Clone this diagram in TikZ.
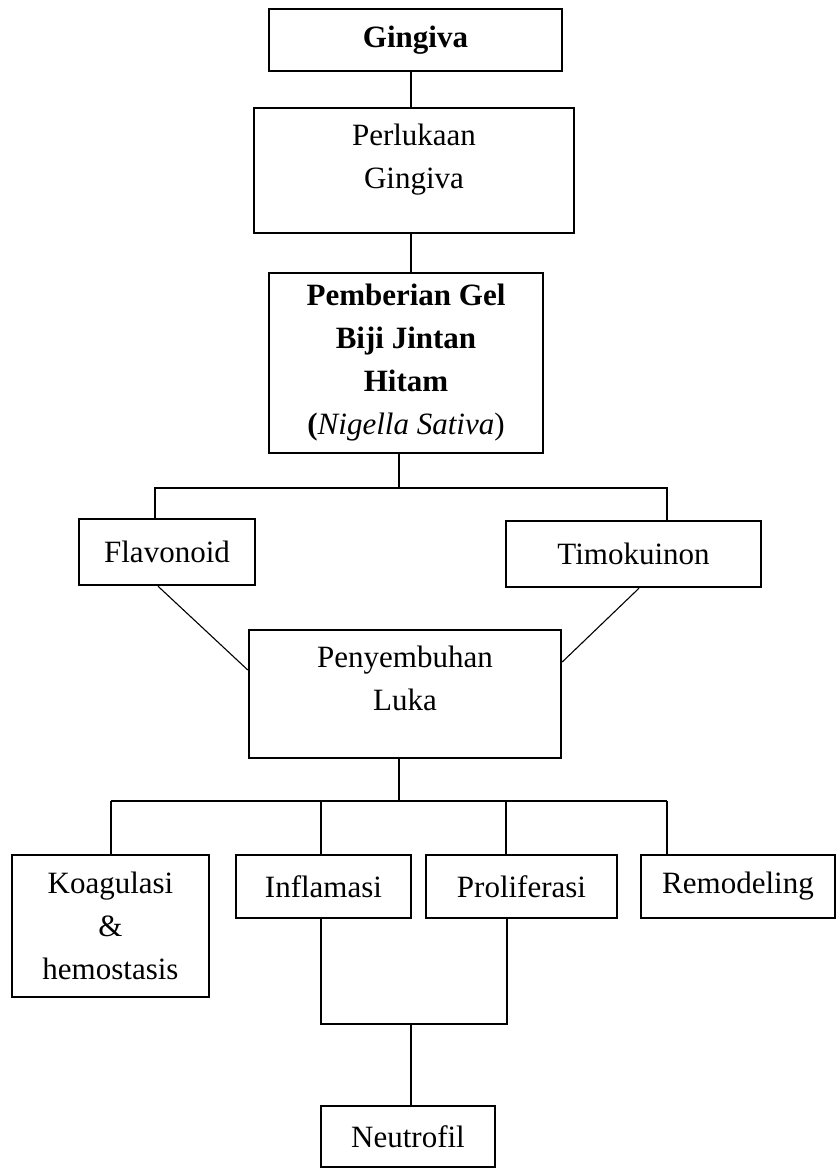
\documentclass[tikz,border=0pt]{standalone}
\usepackage{fontspec}
\setmainfont{Liberation Serif}
\usetikzlibrary{positioning}

\begin{document}
\begin{tikzpicture}[x=1pt, y=-1pt,
  box/.style={draw, line width=2.4pt, align=center, inner sep=0pt, font={\fontsize{31}{43}\selectfont}},
  link/.style={line width=1.1pt}]
  \useasboundingbox (0,0) rectangle (835,1169);
  \node[box, minimum width=293pt, minimum height=62pt] (gingiva) at (415.5,40) {\textbf{Gingiva}};
  \node[box, minimum width=320pt, minimum height=125pt, text depth=29pt] (perlukaan) at (414,170.5) {Perlukaan\\Gingiva};
  \node[box, minimum width=274pt, minimum height=180pt] (pemberian) at (406,363) {\textbf{Pemberian Gel}\\\textbf{Biji Jintan}\\\textbf{Hitam}\\\textbf{(}\textit{Nigella Sativa})};
  \node[box, minimum width=176pt, minimum height=66pt] (flavonoid) at (167,552) {Flavonoid};
  \node[box, minimum width=255pt, minimum height=66pt] (timokuinon) at (633.5,554) {Timokuinon};
  \node[box, minimum width=312pt, minimum height=128pt, text depth=32pt] (penyembuhan) at (405,694) {Penyembuhan\\Luka};
  \node[box, minimum width=197pt, minimum height=142pt] (koagulasi) at (110.5,926) {Koagulasi\\\&\\hemostasis};
  \node[box, minimum width=175pt, minimum height=63pt] (inflamasi) at (323.5,886.5) {Inflamasi};
  \node[box, minimum width=191pt, minimum height=63pt] (proliferasi) at (521.5,886.5) {Proliferasi};
  \node[box, minimum width=194pt, minimum height=63pt] (remodeling) at (738,886.5) {Remodeling};
  \node[box, minimum width=174pt, minimum height=61pt] (neutrofil) at (408,1136.5) {Neutrofil};

  \coordinate (axis) at (411,0);
  \coordinate (fork1) at (399,488);
  \coordinate (fork1l) at (155,488);
  \coordinate (fork1r) at (667,488);
  \coordinate (fork2) at (399,801);
  \coordinate (fork2l) at (111,801);
  \coordinate (fork2r) at (667,801);
  \coordinate (fork3) at (411,1024);
  \coordinate (fork3l) at (321,1024);
  \coordinate (fork3r) at (507,1024);

  \draw[link] (gingiva.south -| axis) -- (perlukaan.north -| axis);
  \draw[link] (perlukaan.south -| axis) -- (pemberian.north -| axis);
  \draw[link] (pemberian.south -| fork1) -- (fork1);
  \draw[link] (flavonoid.north -| fork1l) -- (fork1l) -- (fork1r) -- (timokuinon.north -| fork1r);
  \draw[link] ([xshift=-9pt]flavonoid.south) -- ([yshift=24pt]penyembuhan.west);
  \draw[link] ([xshift=5.5pt]timokuinon.south) -- ([yshift=32pt]penyembuhan.east);
  \draw[link] (penyembuhan.south -| fork2) -- (fork2);
  \draw[link] (fork2l) -- (fork2r);
  \foreach \n/\x in {koagulasi/111, inflamasi/321, proliferasi/506, remodeling/667}
    \draw[link] (\x,801) -- (\n.north -| \x,0);
  \draw[link] (inflamasi.south -| fork3l) -- (fork3l) -- (fork3r) -- (proliferasi.south -| fork3r);
  \draw[link] (fork3) -- (neutrofil.north -| fork3);
\end{tikzpicture}
\end{document}
